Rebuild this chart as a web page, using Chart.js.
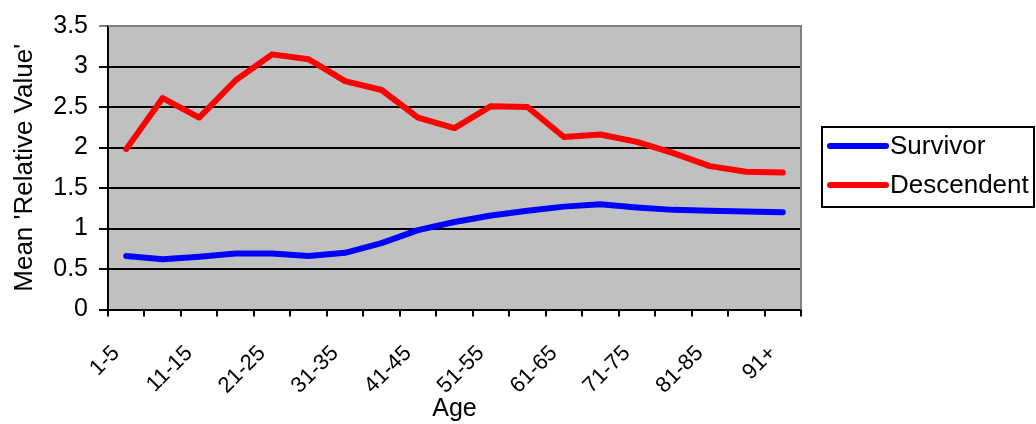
<!DOCTYPE html>
<html>
<head>
<meta charset="utf-8">
<script src="https://cdn.jsdelivr.net/npm/chart.js@4/dist/chart.umd.min.js"></script>
<style>
  html, body { margin: 0; padding: 0; background: #fff; }
  #chart { display: block; }
</style>
</head>
<body>
<canvas id="chart" width="1036" height="424"></canvas>
<script>
  // age groups along the x axis
  const ageGroups = [
    "1-5", "6-10", "11-15", "16-20", "21-25", "26-30", "31-35", "36-40",
    "41-45", "46-50", "51-55", "56-60", "61-65", "66-70", "71-75", "76-80",
    "81-85", "86-90", "91+"
  ];

  // mean 'relative value' per age group
  const survivor = [
    0.66, 0.62, 0.65, 0.69, 0.69, 0.66, 0.70, 0.82, 0.98, 1.08,
    1.16, 1.22, 1.27, 1.30, 1.26, 1.23, 1.22, 1.21, 1.20
  ];
  const descendent = [
    1.98, 2.61, 2.37, 2.83, 3.15, 3.09, 2.82, 2.71, 2.37, 2.24,
    2.51, 2.50, 2.13, 2.16, 2.07, 1.93, 1.77, 1.70, 1.69
  ];

  const FONT = "'Liberation Sans', Arial, sans-serif";

  // grey plot background + top/right border, like the old spreadsheet chart
  const plotFrame = {
    id: "plotFrame",
    beforeDraw(chart) {
      const { ctx, chartArea: a } = chart;
      ctx.save();
      ctx.fillStyle = "#C0C0C0";
      ctx.fillRect(a.left, a.top, a.right - a.left, a.bottom - a.top);
      ctx.restore();
    },
    afterDraw(chart) {
      const { ctx, chartArea: a } = chart;
      ctx.save();
      ctx.strokeStyle = "#808080";
      ctx.lineWidth = 2;
      ctx.beginPath();
      ctx.moveTo(a.left, a.top);
      ctx.lineTo(a.right, a.top);
      ctx.lineTo(a.right, a.bottom);
      ctx.stroke();
      ctx.restore();
    },
  };

  // boxed legend on the right
  const boxLegend = {
    id: "boxLegend",
    afterDraw(chart) {
      const { ctx } = chart;
      ctx.save();
      ctx.strokeStyle = "#000";
      ctx.lineWidth = 2;
      ctx.strokeRect(822, 127, 212, 80);
      ctx.font = "26px " + FONT;
      ctx.textBaseline = "middle";
      ctx.textAlign = "left";
      chart.data.datasets.forEach((ds, i) => {
        const y = 146 + i * 39;
        ctx.strokeStyle = ds.borderColor;
        ctx.lineWidth = 6;
        ctx.lineCap = "round";
        ctx.beginPath();
        ctx.moveTo(830, y);
        ctx.lineTo(886, y);
        ctx.stroke();
        ctx.fillStyle = "#000";
        ctx.fillText(ds.label, 890, y + 1);
      });
      ctx.restore();
    },
  };

  new Chart(document.getElementById("chart"), {
    type: "line",
    data: {
      labels: ageGroups,
      datasets: [
        {
          label: "Survivor",
          data: survivor,
          borderColor: "#0000FF",
          borderWidth: 6,
        },
        {
          label: "Descendent",
          data: descendent,
          borderColor: "#FF0000",
          borderWidth: 6,
        },
      ],
    },
    options: {
      responsive: false,
      animation: false,
      layout: { padding: { left: 0, top: 25, right: 235, bottom: 0 } },
      elements: {
        point: { radius: 0 },
        line: { tension: 0, borderCapStyle: "round", borderJoinStyle: "round" },
      },
      plugins: {
        legend: { display: false },
        tooltip: { enabled: false },
      },
      scales: {
        x: {
          offset: true,
          afterFit(scale) { scale.height = 114.5; },
          grid: {
            offset: true,
            drawOnChartArea: false,
            color: "#000",
            lineWidth: 2,
            tickLength: 7,
          },
          border: { color: "#000", width: 2 },
          ticks: {
            autoSkip: false,
            maxRotation: 45,
            minRotation: 45,
            padding: 24,
            labelOffset: -10,
            color: "#000",
            font: { family: FONT, size: 22 },
            callback(value, index) {
              return index % 2 === 0 ? this.getLabelForValue(value) : "";
            },
          },
          title: {
            display: true,
            text: "Age",
            color: "#000",
            font: { family: FONT, size: 25, lineHeight: 1.2 },
            padding: 0,
          },
        },
        y: {
          min: 0,
          max: 3.5,
          afterFit(scale) { scale.width = 108; },
          grid: {
            color: (c) => (c.tick && c.tick.value === 3.5 ? "#808080" : "#000"),
            lineWidth: 2,
            tickLength: 9,
          },
          border: { color: "#000", width: 2 },
          ticks: {
            stepSize: 0.5,
            padding: 11,
            color: "#000",
            font: { family: FONT, size: 25 },
            callback: (v) => String(v),
          },
          title: {
            display: true,
            text: "Mean 'Relative Value'",
            color: "#000",
            font: { family: FONT, size: 26, lineHeight: 1.2 },
            padding: { top: 9, bottom: 0 },
          },
        },
      },
    },
    plugins: [plotFrame, boxLegend],
  });
</script>
</body>
</html>
